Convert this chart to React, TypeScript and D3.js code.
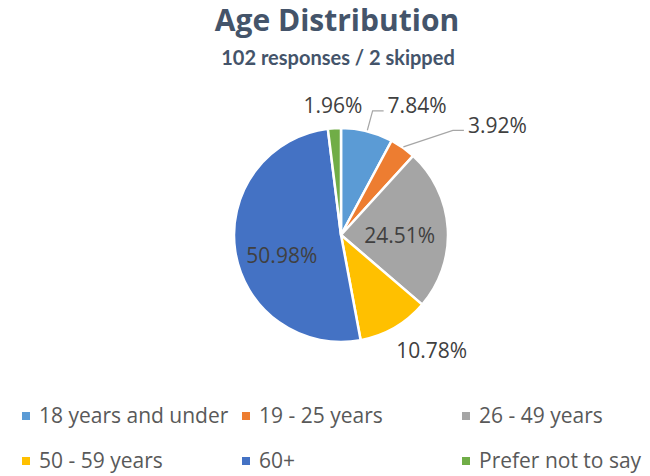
import {useMemo} from "react"

import * as d3 from "d3"

const categories = [
  "18 years and under",
  "19 - 25 years",
  "26 - 49 years",
  "50 - 59 years",
  "60+",
  "Prefer not to say",
]
const responses = [8, 4, 25, 11, 52, 2]
const colors = ["#5B9BD5", "#ED7D31", "#A5A5A5", "#FFC000", "#4472C4", "#70AD47"]

const title = "Age Distribution"
const subtitle = "102 responses / 2 skipped"

const width = 650
const height = 476
const pieCenter = {x: 341, y: 235}
const radius = 107

// label placement along each slice's mid angle, in radius units, plus a nudge
const labelLayout = [
  {k: 1.25, dx: 14, dy: 0, anchor: "start", leader: true},
  {k: 1.26, dx: 49, dy: 0, anchor: "start", leader: true},
  {k: 0.55, dx: 0, dy: 4, anchor: "middle", leader: false},
  {k: 1.21, dx: 26, dy: 3, anchor: "middle", leader: false},
  {k: 0.56, dx: 0, dy: 11, anchor: "middle", leader: false},
  {k: 1.21, dx: 0, dy: 0, anchor: "middle", leader: false},
]

const font = "'Open Sans', 'DejaVu Sans', sans-serif"

const App = (): JSX.Element => {
  const total = d3.sum(responses)

  const slices = useMemo(
    () =>
      d3
        .pie<number>()
        .sort(null)
        .value((d) => d)(responses),
    [],
  )

  const arc = d3
    .arc<d3.PieArcDatum<number>>()
    .innerRadius(0)
    .outerRadius(radius)

  const legendX = d3.scaleLinear().domain([0, 1]).range([22, 242])
  const legendY = d3.scaleLinear().domain([0, 1]).range([416, 461])

  return (
    <svg
      width={width}
      height={height}
      style={{position: "absolute", left: 0, top: 0, background: "#fff"}}
      fontFamily={font}
    >
      <text
        x={337}
        y={31}
        textAnchor="middle"
        fontSize={30}
        fontWeight="bold"
        fill="#44546A"
      >
        {title}
      </text>
      <text
        x={338}
        y={65}
        textAnchor="middle"
        fontFamily="Lato, 'Open Sans', sans-serif"
        fontSize={20}
        fontWeight="bold"
        fill="#44546A"
      >
        {subtitle}
      </text>

      <g transform={`translate(${pieCenter.x},${pieCenter.y})`}>
        {slices.map((slice, i) => (
          <path
            key={categories[i]}
            d={arc(slice) ?? ""}
            fill={colors[i]}
            stroke="#fff"
            strokeWidth={2.5}
            strokeLinejoin="round"
          />
        ))}
        {slices.map((slice, i) => {
          const layout = labelLayout[i]
          const mid = (slice.startAngle + slice.endAngle) / 2
          const tx = Math.sin(mid) * layout.k * radius + layout.dx
          const ty = -Math.cos(mid) * layout.k * radius + layout.dy
          const label = ((slice.value / total) * 100).toFixed(2) + "%"
          let leader = null
          if (layout.leader) {
            const sx = Math.sin(mid) * (radius + 1)
            const sy = -Math.cos(mid) * (radius + 1)
            const points: [number, number][] = [
              [sx, sy],
              [tx - 15, ty + 5.5],
              [tx - 4, ty + 5.5],
            ]
            leader = (
              <path
                d={d3.line()(points) ?? ""}
                fill="none"
                stroke="#A6A6A6"
                strokeWidth={1.2}
              />
            )
          }
          return (
            <g key={"label" + i}>
              {leader}
              <text
                x={tx}
                y={ty}
                dy="0.36em"
                textAnchor={layout.anchor}
                fontSize={21}
                fill="#404040"
              >
                {label}
              </text>
            </g>
          )
        })}
      </g>

      {categories.map((category, i) => {
        const col = i % 3
        const row = Math.floor(i / 3)
        const x = legendX(col)
        const y = legendY(row)
        return (
          <g key={"legend" + i}>
            <rect x={x} y={y - 4} width={8} height={8} fill={colors[i]} />
            <text x={x + 17} y={y} dy="0.35em" fontSize={21} fill="#595959">
              {category}
            </text>
          </g>
        )
      })}
    </svg>
  )
}

export default App
